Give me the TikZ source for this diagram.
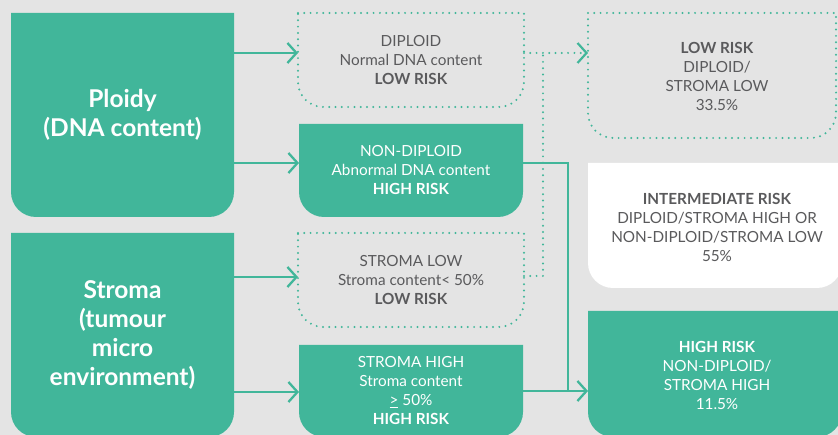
\documentclass[tikz,border=0pt]{standalone}
\usepackage{fontspec}
\setmainfont{Lato}
\usetikzlibrary{arrows.meta,calc}
\definecolor{tgreen}{HTML}{41B69A}
\definecolor{bggray}{HTML}{E4E4E4}
\definecolor{txtgray}{HTML}{5A5A5C}
\pgfdeclarelayer{shapes}
\pgfsetlayers{shapes,main}
\newcommand{\botbox}[2]{%
  \path[#1] (#2.north west) -- (#2.north east) -- ([yshift=25pt]#2.south east)
    arc[start angle=0,end angle=-90,radius=25pt] -- ([xshift=25pt]#2.south west)
    arc[start angle=-90,end angle=-180,radius=25pt] -- cycle;}
\tikzset{
  holder/.style={inner sep=0pt, outer sep=0pt, align=center},
  bigtxt/.style={holder, text=white, font=\fontsize{24.5}{28.7}\selectfont\bfseries},
  smallw/.style={holder, text=white, font=\fontsize{15.3}{19}\selectfont},
  smallg/.style={holder, text=txtgray, font=\fontsize{15.3}{19}\selectfont},
  solidfill/.style={fill=tgreen},
  whitefill/.style={fill=white},
  dotbox/.style={draw=tgreen, line width=2.2pt, line cap=round, dash pattern=on 0pt off 6.3pt},
  conn/.style={draw=tgreen, line width=2.3pt},
  tip/.style={-{Straight Barb[length=9pt,width=20pt]}},
  dotline/.style={draw=tgreen, line width=2.2pt, line cap=round, dash pattern=on 0pt off 6.3pt},
}
\begin{document}
\begin{tikzpicture}[x=1pt,y=1pt]
\useasboundingbox (0,0) rectangle (838,435);
\clip (0,0) rectangle (838,435);
\begin{pgfonlayer}{shapes}
\fill[bggray] (0,0) rectangle (838,435);
\end{pgfonlayer}

% left category boxes
\node[bigtxt, minimum width=223pt, minimum height=204pt] (ploidy) at (122.5,320) {Ploidy\\(DNA content)};
\node[bigtxt, minimum width=223pt, minimum height=204pt] (stroma) at (122.5,100) {Stroma\\(tumour\\micro\\environment)};

% middle boxes
\node[smallg, minimum width=226pt, minimum height=94pt] (diploid) at (411,375) {DIPLOID\\Normal DNA content\\\textbf{LOW RISK}};
\node[smallw, minimum width=224pt, minimum height=93pt] (nondip) at (411,264.5) {NON-DIPLOID\\Abnormal DNA content\\\textbf{HIGH RISK}};
\node[smallg, minimum width=226pt, minimum height=94pt] (stromalow) at (411,155) {STROMA LOW\\Stroma content< 50\%\\\textbf{LOW RISK}};
\node[smallw, minimum width=224pt, minimum height=92pt] (stromahigh) at (411,44) {STROMA HIGH\\Stroma content\\\underline{>} 50\%\\\textbf{HIGH RISK}};

% right outcome boxes
\node[holder, minimum width=248pt, minimum height=125pt] (lowrisk) at (712,359.5) {};
\node[holder, minimum width=254pt, minimum height=125pt] (inter) at (715,209.5) {};
\node[holder, minimum width=254pt, minimum height=126pt] (highrisk) at (715,61) {};
\node[smallg] (lowrisk-t) at (717,358.5) {\textbf{LOW RISK}\\DIPLOID/\\STROMA LOW\\33.5\%};
\node[smallg] (inter-t) at (717,207.5) {\textbf{INTERMEDIATE RISK}\\DIPLOID/STROMA HIGH OR\\NON-DIPLOID/STROMA LOW\\55\%};
\node[smallw] (highrisk-t) at (717,60) {\textbf{HIGH RISK}\\NON-DIPLOID/\\STROMA HIGH\\11.5\%};

\begin{pgfonlayer}{shapes}
\botbox{solidfill}{ploidy}
\botbox{solidfill}{stroma}
\botbox{dotbox}{diploid}
\botbox{solidfill}{nondip}
\botbox{dotbox}{stromalow}
\botbox{solidfill}{stromahigh}
\botbox{dotbox}{lowrisk}
\botbox{whitefill}{inter}
\botbox{solidfill}{highrisk}
\end{pgfonlayer}

% connectors from categories
\coordinate (a1) at ($(ploidy.north east)+(0,-40)$);
\coordinate (a2) at ($(ploidy.north east)+(0,-150)$);
\coordinate (a3) at ($(stroma.north east)+(0,-44)$);
\coordinate (a4) at ($(stroma.north east)+(0,-159)$);
\draw[conn, tip] (a1) -- (a1 -| diploid.west);
\draw[conn, tip] (a2) -- (a2 -| nondip.west);
\draw[conn, tip] (a3) -- (a3 -| stromalow.west);
\draw[conn, tip] (a4) -- (a4 -| stromahigh.west);

% dotted low-risk path
\coordinate (d1) at ($(diploid.north east)+(0,-40)$);
\coordinate (d2) at ($(stromalow.north east)+(0,-43)$);
\draw[dotline, tip] (d1) -- (d1 -| lowrisk.west);
\draw[dotline] (d2) -| ($(d1)+(19,0)$);

% solid high-risk path
\coordinate (s1) at ($(nondip.north east)+(0,-39)$);
\coordinate (s2) at ($(stromahigh.north east)+(0,-46)$);
\draw[conn, tip] (s1) -- ++(45,0) |- (s2 -| highrisk.west);
\draw[conn] (s2) -- ++(45,0);
\end{tikzpicture}
\end{document}
